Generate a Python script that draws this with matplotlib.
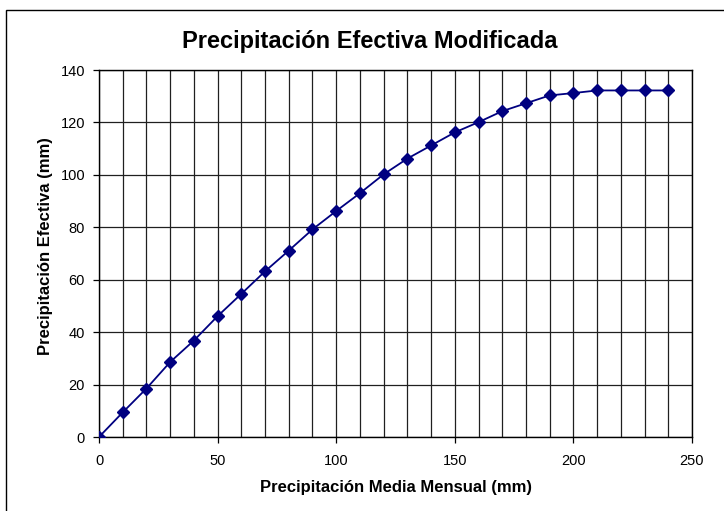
import matplotlib.pyplot as plt
from matplotlib.patches import Rectangle
from matplotlib.ticker import MultipleLocator

plt.rcParams["font.family"] = ["Liberation Sans", "DejaVu Sans"]

# Data
precip_media = [0, 10, 20, 30, 40, 50, 60, 70, 80, 90, 100, 110, 120,
                130, 140, 150, 160, 170, 180, 190, 200, 210, 220, 230, 240]
precip_efectiva = [0, 9.4, 18.5, 28.6, 36.8, 46.1, 54.6, 63.2, 71.1, 79.2,
                   86.2, 93.0, 100.2, 106.2, 111.2, 116.2, 120.1, 124.3,
                   127.3, 130.3, 131.2, 132.2, 132.2, 132.2, 132.2]

fig = plt.figure(figsize=(7.24, 5.11), dpi=100)
ax = fig.add_axes([99 / 724, 1 - 437 / 511, 593 / 724, 367 / 511])

# outer chart frame (Excel style), right and bottom edges run off the picture
fig.patches.append(Rectangle((0.008, -0.05), 1.1, 1.03, transform=fig.transFigure,
                             fill=False, edgecolor="black", linewidth=1.0))

ax.plot(precip_media, precip_efectiva, color="#000080", linewidth=1.3,
        marker="D", markersize=6.5, markerfacecolor="#000080",
        markeredgecolor="#000080", zorder=3)

ax.set_xlim(0, 250)
ax.set_ylim(0, 140)
ax.xaxis.set_major_locator(MultipleLocator(50))
ax.xaxis.set_minor_locator(MultipleLocator(10))
ax.yaxis.set_major_locator(MultipleLocator(20))
ax.grid(which="both", axis="x", color="#202020", linewidth=0.9)
ax.grid(which="major", axis="y", color="#202020", linewidth=0.9)
ax.tick_params(which="minor", length=0)
ax.tick_params(which="major", length=4, width=0.9, labelsize=10.5)
ax.tick_params(axis="x", pad=8)
ax.tick_params(axis="y", pad=6)
for s in ax.spines.values():
    s.set_linewidth(1.0)
    s.set_color("black")

ax.set_title("Precipitación Efectiva Modificada", fontsize=17, fontweight="bold",
             pad=16, x=0.457)
ax.set_xlabel("Precipitación Media Mensual (mm)", fontsize=12, fontweight="bold", labelpad=9)
ax.set_ylabel("Precipitación Efectiva (mm)", fontsize=12, fontweight="bold")
ax.yaxis.set_label_coords(-0.077, 0.52)

fig.savefig("out.png", dpi=100)
